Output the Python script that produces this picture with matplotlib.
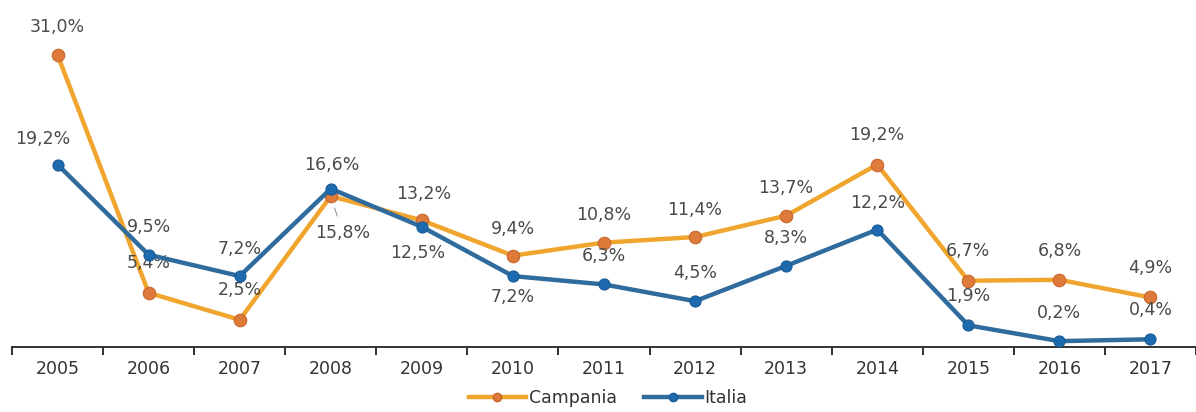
import matplotlib
matplotlib.use("Agg")
import matplotlib.pyplot as plt
from matplotlib.lines import Line2D

plt.rcParams['font.family'] = ['DejaVu Sans']

years = ["2005", "2006", "2007", "2008", "2009", "2010", "2011",
         "2012", "2013", "2014", "2015", "2016", "2017"]
campania = [31.0, 5.4, 2.5, 15.8, 13.2, 9.4, 10.8, 11.4, 13.7, 19.2, 6.7, 6.8, 4.9]
italia = [19.2, 9.5, 7.2, 16.6, 12.5, 7.2, 6.3, 4.5, 8.3, 12.2, 1.9, 0.2, 0.4]

# label offsets in pixels (dx, dy) relative to each point
campania_off = [(0, 28), (0, 30), (0, 30), (12, -37), (2, 26), (0, 27), (0, 28),
                (0, 27), (0, 28), (0, 30), (0, 30), (0, 29), (0, 29)]
italia_off = [(-15, 26), (0, 28), (0, 27), (1, 24), (-4, -26), (0, -21), (0, 28),
              (0, 28), (0, 28), (0, 27), (0, 29), (0, 28), (0, 29)]

c_line, c_mark = "#F0A52E", "#DE7A3A"
i_line, i_mark = "#2F6B9C", "#1E6AAE"
txt = "#4A4A4A"
fs = 12.5

fig = plt.figure(figsize=(11.96, 4.12), dpi=100)
ax = fig.add_axes([12 / 1196, 65 / 412, 1 - 12 / 1196, 347 / 412])

x = list(range(len(years)))
ax.plot(x, campania, color=c_line, lw=3.2, marker="o", ms=9,
        mfc=c_mark, mec="#C9652B", mew=0.8, zorder=3)
ax.plot(x, italia, color=i_line, lw=3.2, marker="o", ms=8,
        mfc=i_mark, mec="#1A5D99", mew=0.8, zorder=4)

def fmt(v):
    return f"{v:.1f}".replace(".", ",") + "%"

for xi, v, (dx, dy) in zip(x, campania, campania_off):
    arrow = None
    if dy < 0:
        arrow = dict(arrowstyle="-", color="#999999", lw=0.8, shrinkA=4, shrinkB=9)
    ax.annotate(fmt(v), (xi, v), xytext=(dx, dy), textcoords="offset pixels",
                ha="center", va="center", fontsize=fs, color=txt,
                arrowprops=arrow)

for xi, v, (dx, dy) in zip(x, italia, italia_off):
    ax.annotate(fmt(v), (xi, v), xytext=(dx, dy), textcoords="offset pixels",
                ha="center", va="center", fontsize=fs, color=txt)

ax.set_xlim(-0.5, len(years) - 0.5)
ax.set_ylim(-0.43, 36.9)

for s in ["top", "right", "left"]:
    ax.spines[s].set_visible(False)
ax.spines["bottom"].set_color("#222222")
ax.spines["bottom"].set_linewidth(1.3)
ax.set_yticks([])

ax.set_xticks(x)
ax.set_xticklabels(years, fontsize=fs, color="#333333")
ax.tick_params(axis="x", which="major", length=0, pad=9)
ax.set_xticks([i - 0.5 for i in range(len(years) + 1)], minor=True)
ax.tick_params(axis="x", which="minor", length=6, width=1.3, color="#222222")

handles = [
    Line2D([], [], color=c_line, lw=3.2, marker="o", ms=6, mfc=c_mark, mec="#C9652B"),
    Line2D([], [], color=i_line, lw=3.2, marker="o", ms=6, mfc=i_mark, mec="#1A5D99"),
]
fig.legend(handles, ["Campania", "Italia"], loc="center",
           bbox_to_anchor=(608 / 1196, 14 / 412), ncol=2,
           frameon=False, fontsize=fs, handlelength=3.3, columnspacing=1.6,
           handletextpad=0.15, labelcolor="#333333")

fig.savefig("out.png", dpi=100)
